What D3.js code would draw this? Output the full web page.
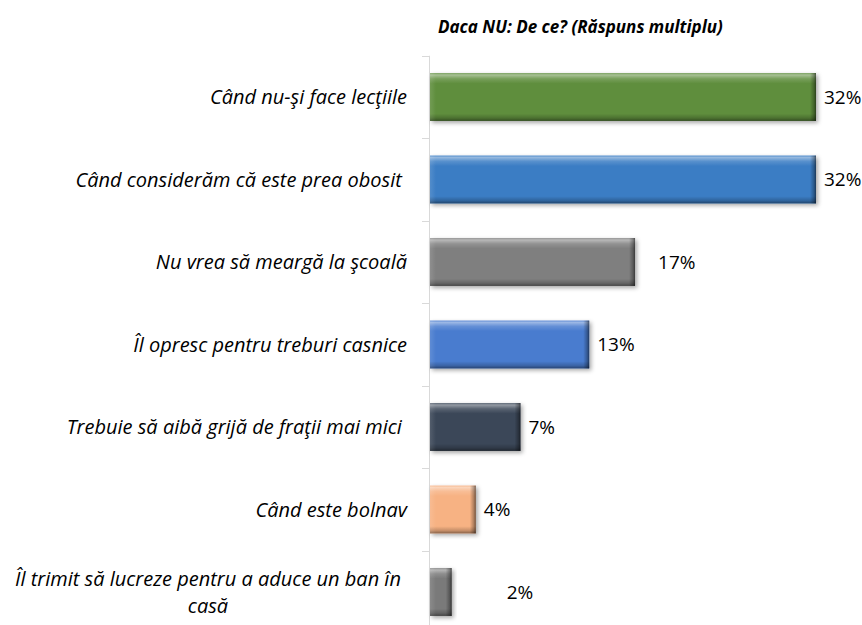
<!DOCTYPE html>
<html>
<head>
<meta charset="utf-8">
<script src="https://cdn.jsdelivr.net/npm/d3@7"></script>
<style>
  html, body { margin: 0; padding: 0; background: #fff; }
  svg { display: block; font-family: "Open Sans", "Liberation Sans", sans-serif; }
  .cat { white-space: pre; }
</style>
</head>
<body>
<svg id="chart" width="862" height="625"></svg>
<script>
// Chart data
const title = 'Daca NU: De ce? (Răspuns multiplu)';
const categories = [
  'Când nu-şi face lecţiile',
  'Când considerăm că este prea obosit ',
  'Nu vrea să meargă la şcoală',
  'Îl opresc pentru treburi casnice',
  'Trebuie să aibă grijă de fraţii mai mici ',
  'Când este bolnav',
  'Îl trimit să lucreze pentru a aduce un ban în casă'
];
const values = [32, 32, 17, 13.2, 7.5, 3.8, 1.8];
const valueLabels = ['32%', '32%', '17%', '13%', '7%', '4%', '2%'];
const barColors = ['#5e8e3e', '#3a7dc4', '#7f7f7f', '#4a7bcf', '#3b4759', '#f7b283', '#7a7a7a'];

(function () {
  const svg = d3.select('#chart');
  const H = 625;
  const fs = 20;

  const x = d3.scaleLinear().domain([0, 32]).range([430, 816]);
  const y = d3.scaleBand().domain(categories).range([55.75, 633.25])
    .paddingInner(0.42).paddingOuter(0.21);

  const defs = svg.append('defs');

  // soft drop shadow like the Excel bevel preset
  const f = defs.append('filter').attr('id', 'shadow')
    .attr('x', '-10%').attr('y', '-20%').attr('width', '130%').attr('height', '160%');
  f.append('feDropShadow').attr('dx', 2).attr('dy', 2)
    .attr('stdDeviation', 2).attr('flood-color', '#000').attr('flood-opacity', 0.35);

  // bevel: light top edge, dark bottom edge
  const gv = defs.append('linearGradient').attr('id', 'bevelV')
    .attr('x1', 0).attr('y1', 0).attr('x2', 0).attr('y2', 1);
  [[0, '#fff', 0.15], [0.04, '#fff', 0.45], [0.12, '#fff', 0.15], [0.22, '#fff', 0],
   [0.85, '#000', 0], [0.94, '#000', 0.2], [1, '#000', 0.45]]
    .forEach(([o, c, a]) => gv.append('stop').attr('offset', o).attr('stop-color', c).attr('stop-opacity', a));

  // left/right edges of the bevel (fixed pixel width)
  function edgeGrad(id, w) {
    const g = defs.append('linearGradient').attr('id', id)
      .attr('x1', 0).attr('y1', 0).attr('x2', 1).attr('y2', 0);
    const e = Math.min(0.45, 6 / w);
    [[0, '#fff', 0.12], [e, '#fff', 0], [1 - e, '#000', 0], [1 - e / 3, '#000', 0.3], [1, '#000', 0.55]]
      .forEach(([o, c, a]) => g.append('stop').attr('offset', o).attr('stop-color', c).attr('stop-opacity', a));
  }

  // axis line + ticks between categories
  const axisX = 429.5;
  const step = y.step();
  svg.append('line')
    .attr('x1', axisX).attr('x2', axisX).attr('y1', 55.75).attr('y2', H)
    .attr('stroke', '#d9d9d9').attr('stroke-width', 1);
  d3.range(categories.length + 1).forEach(i => {
    const ty = Math.round(55.75 + i * step) + 0.5;
    svg.append('line').attr('x1', 422).attr('x2', axisX).attr('y1', ty).attr('y2', ty)
      .attr('stroke', '#d9d9d9');
  });

  // bars
  const bars = svg.append('g').selectAll('g.bar')
    .data(categories.map((c, i) => ({ c, v: values[i], i })))
    .enter().append('g').attr('class', 'bar');

  bars.append('rect')
    .attr('x', x(0)).attr('y', d => y(d.c))
    .attr('width', d => x(d.v) - x(0)).attr('height', y.bandwidth())
    .attr('fill', d => barColors[d.i])
    .attr('filter', 'url(#shadow)');
  bars.append('rect')
    .attr('x', x(0)).attr('y', d => y(d.c))
    .attr('width', d => x(d.v) - x(0)).attr('height', y.bandwidth())
    .attr('fill', 'url(#bevelV)');
  bars.each(function (d) {
    const w = x(d.v) - x(0);
    edgeGrad('edge' + d.i, w);
    d3.select(this).append('rect')
      .attr('x', x(0)).attr('y', y(d.c))
      .attr('width', w).attr('height', y.bandwidth())
      .attr('fill', 'url(#edge' + d.i + ')');
  });

  // value labels (two of them were nudged right in the original)
  const labelNudge = { 2: 15, 6: 47 };
  bars.append('text')
    .attr('x', d => x(d.v) + 8 + (labelNudge[d.i] || 0))
    .attr('y', d => y(d.c) + y.bandwidth() / 2)
    .attr('dy', '0.35em')
    .attr('font-size', 19)
    .attr('fill', '#000')
    .text(d => valueLabels[d.i]);

  // category labels, right aligned, long ones wrapped and centred
  const maxW = 405;
  const labels = svg.append('g');
  categories.forEach(c => {
    const cy = y(c) + y.bandwidth() / 2;
    const t = labels.append('text').attr('class', 'cat')
      .attr('font-size', fs).attr('font-style', 'italic').attr('fill', '#000');
    t.text(c);
    if (t.node().getComputedTextLength() <= maxW) {
      t.attr('x', 407).attr('y', cy).attr('dy', '0.35em').attr('text-anchor', 'end');
      return;
    }
    // wrap words
    t.text(null);
    const words = c.trim().split(/\s+/);
    const lines = [];
    let line = [];
    const probe = labels.append('text').attr('font-size', fs).attr('font-style', 'italic');
    words.forEach(w => {
      probe.text(line.concat(w).join(' '));
      if (probe.node().getComputedTextLength() > maxW && line.length) {
        lines.push(line.join(' '));
        line = [w];
      } else line.push(w);
    });
    lines.push(line.join(' '));
    probe.remove();
    const lh = 27;
    t.attr('text-anchor', 'middle');
    lines.forEach((l, k) => {
      t.append('tspan').attr('x', 208)
        .attr('y', cy + (k - (lines.length - 1) / 2) * lh)
        .attr('dy', '0.35em').text(l);
    });
  });

  // title
  svg.append('text')
    .attr('x', 438).attr('y', 27).attr('dy', '0.35em')
    .attr('font-size', 17).attr('font-weight', 'bold').attr('font-style', 'italic')
    .text(title);
})();
</script>
</body>
</html>
